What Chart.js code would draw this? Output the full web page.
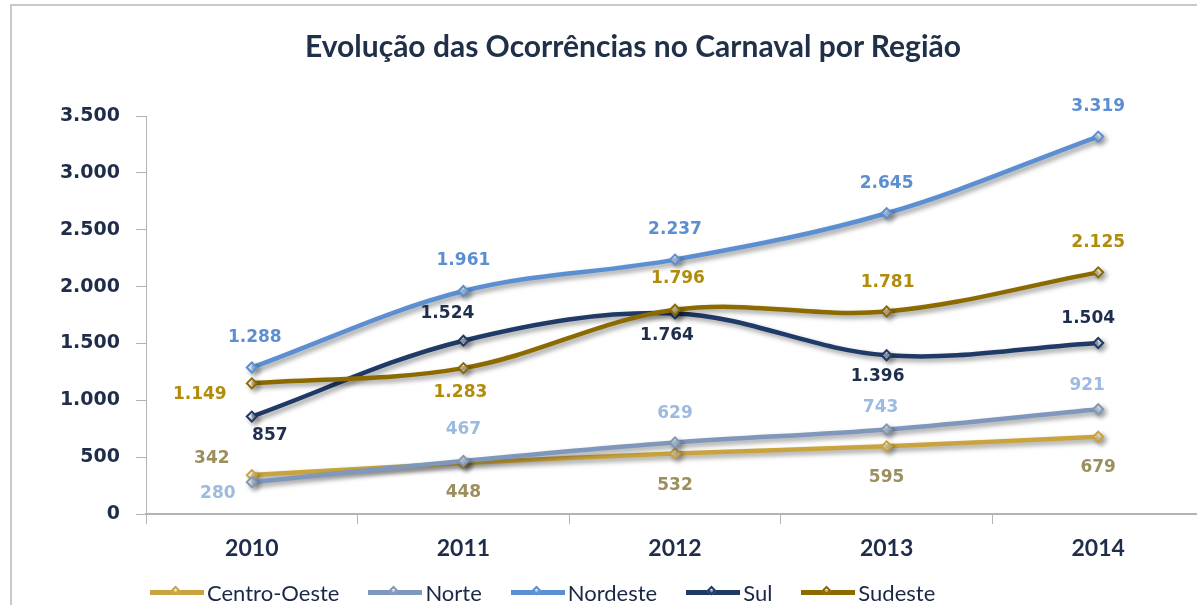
<!DOCTYPE html>
<html>
<head>
<meta charset="utf-8">
<script src="https://cdn.jsdelivr.net/npm/chart.js@4"></script>
<style>
    body { margin: 0; width: 1197px; height: 605px; overflow: hidden; background: #fff; position: relative; }
    #frame { position: absolute; left: 10px; top: 4px; width: 1200px; height: 620px; border-left: 2px solid #c8c8c8; border-top: 2px solid #c8c8c8; }
    #wrap { position: absolute; left: 0; top: 0; width: 1215px; height: 605px; }
    #title { position: absolute; left: 0; width: 1266px; top: 27px; text-align: center; font: bold 30px Lato, sans-serif; color: #1f3048; }
    #legend { position: absolute; left: 150px; top: 579px; display: flex; align-items: center; font: 22px Lato, sans-serif; color: #1a2845; }
    .item { display: flex; align-items: center; margin-right: 29px; }
    .swatch { position: relative; width: 54px; height: 5px; margin-right: 3px; }
    .swatch i { position: absolute; left: 22px; top: -3px; width: 7px; height: 7px; border: 2px solid; transform: rotate(45deg); background: rgba(255,255,255,0.5); box-sizing: border-box; }
</style>
</head>
<body>
<div id="frame"></div>
<div id="wrap"><canvas id="regionChart" width="1215" height="605"></canvas></div>
<div id="title">Evolução das Ocorrências no Carnaval por Região</div>
<div id="legend"></div>
<script>
// Data
const years = ['2010', '2011', '2012', '2013', '2014'];
const centroOeste = [342, 448, 532, 595, 679];
const norte = [280, 467, 629, 743, 921];
const nordeste = [1288, 1961, 2237, 2645, 3319];
const sul = [857, 1524, 1764, 1396, 1504];
const sudeste = [1149, 1283, 1796, 1781, 2125];

// Colors (line, label)
const series = [
    { label: 'Centro-Oeste', data: centroOeste, color: '#c9a43e', text: '#9c8f5e', order: 4 },
    { label: 'Norte', data: norte, color: '#7e97ba', text: '#9dbae0', order: 3 },
    { label: 'Nordeste', data: nordeste, color: '#5b8fd2', text: '#5b8fd2', order: 2 },
    { label: 'Sul', data: sul, color: '#1f3a66', text: '#1e2e4c', order: 1 },
    { label: 'Sudeste', data: sudeste, color: '#8b6a00', text: '#b08c0a', order: 0 }
];

// Where each value label sits relative to its point [dx, dy]
const labelOffsets = [
    [[-40, -17], [0, 30], [0, 32], [0, 31], [0, 31]],
    [[-34, 11], [0, -31], [0, -29], [-6, -22], [-11, -24]],
    [[3, -30], [0, -30], [0, -30], [0, -30], [0, -30]],
    [[18, 19], [-16, -27], [-8, 22], [-9, 21], [-10, -24]],
    [[-52, 11], [-3, 24], [3, -31], [1, -29], [0, -30]]
];

function fmt(v) {
    return String(v).replace(/\B(?=(\d{3})+(?!\d))/g, '.');
}

// soft drop shadow under the lines, like the original
const shadowPlugin = {
    id: 'shadow',
    beforeDatasetDraw(chart) {
        const ctx = chart.ctx;
        ctx.save();
        ctx.shadowColor = 'rgba(0,0,0,0.4)';
        ctx.shadowBlur = 5;
        ctx.shadowOffsetX = 3;
        ctx.shadowOffsetY = 3;
    },
    afterDatasetDraw(chart) {
        chart.ctx.restore();
    }
};

const valueLabels = {
    id: 'valueLabels',
    afterDatasetsDraw(chart) {
        const ctx = chart.ctx;
        ctx.save();
        ctx.font = 'bold 17px "DejaVu Sans"';
        ctx.textAlign = 'center';
        ctx.textBaseline = 'middle';
        chart.data.datasets.forEach((ds, i) => {
            const meta = chart.getDatasetMeta(i);
            meta.data.forEach((pt, j) => {
                const off = labelOffsets[i][j];
                ctx.fillStyle = series[i].text;
                ctx.fillText(fmt(ds.data[j]), pt.x + off[0], pt.y + off[1]);
            });
        });
        ctx.restore();
    }
};

const ctx = document.getElementById('regionChart').getContext('2d');
const chart = new Chart(ctx, {
    type: 'line',
    data: {
        labels: years,
        datasets: series.map(s => ({
            label: s.label,
            data: s.data,
            order: s.order,
            borderColor: s.color,
            backgroundColor: s.color,
            borderWidth: 4.5,
            tension: 0.35,
            pointStyle: 'rectRot',
            pointRadius: 5,
            pointBorderWidth: 2,
            pointBorderColor: s.color,
            pointBackgroundColor: 'rgba(255,255,255,0.55)'
        }))
    },
    options: {
        responsive: false,
        animation: false,
        layout: { padding: { left: 0, right: 11, top: 116, bottom: 0 } },
        plugins: {
            legend: { display: false },
            tooltip: { enabled: false }
        },
        scales: {
            x: {
                offset: true,
                grid: { offset: true, drawOnChartArea: false, drawTicks: true, tickLength: 10, color: '#b4b4b4' },
                border: { color: '#b4b4b4', width: 2 },
                ticks: { color: '#1f2d4a', font: { family: 'Lato', size: 23, weight: 'bold' }, padding: 11 },
                afterFit(scale) { scale.height = 91; }
            },
            y: {
                min: 0,
                max: 3500,
                ticks: {
                    stepSize: 500,
                    color: '#1f2d4a',
                    font: { family: 'DejaVu Sans', size: 19, weight: 'bold' },
                    padding: 16,
                    callback: v => fmt(v)
                },
                grid: { drawOnChartArea: false, drawTicks: true, tickLength: 10, color: '#b4b4b4' },
                border: { color: '#b4b4b4', width: 1 },
                afterFit(scale) { scale.width = 146; }
            }
        }
    },
    plugins: [shadowPlugin, valueLabels]
});

// legend row below the chart
const legend = document.getElementById('legend');
series.forEach(s => {
    const item = document.createElement('div');
    item.className = 'item';
    item.innerHTML = '<div class="swatch" style="background:' + s.color + '"><i style="border-color:' + s.color + '"></i></div><span>' + s.label + '</span>';
    legend.appendChild(item);
});
</script>
</body>
</html>
